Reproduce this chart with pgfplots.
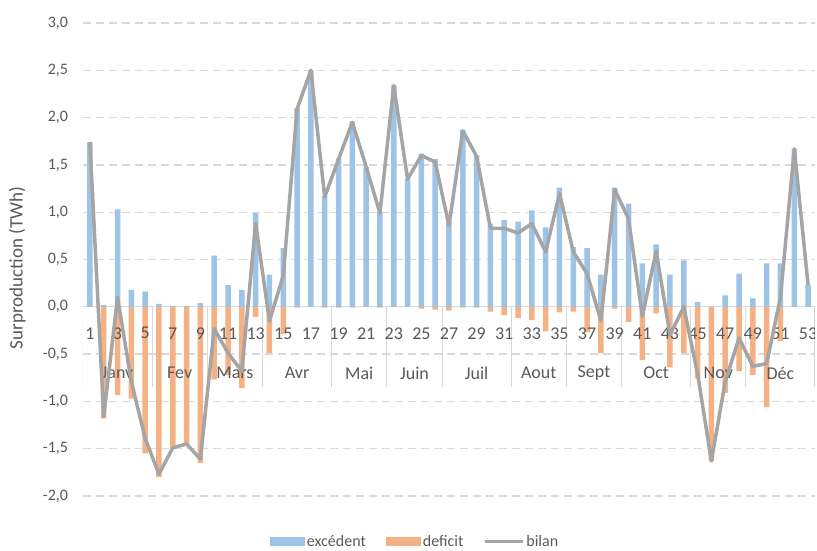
\documentclass[border=0pt]{standalone}
\usepackage{fontspec}
\setmainfont{Carlito}
\usepackage{pgfplots}
\pgfplotsset{compat=1.18}
\usepackage{pgfplotstable}
\definecolor{exc}{RGB}{157,195,230}
\definecolor{def}{RGB}{244,177,131}
\definecolor{bil}{RGB}{165,165,165}
\definecolor{gridc}{RGB}{217,217,217}
\definecolor{txt}{RGB}{89,89,89}

\pgfplotstableread{
w exc def bil
1 1.74 0.00 1.74
2 0.02 -1.18 -1.16
3 1.03 -0.93 0.10
4 0.18 -0.97 -0.79
5 0.16 -1.55 -1.39
6 0.03 -1.80 -1.77
7 0.01 -1.50 -1.49
8 0.01 -1.46 -1.45
9 0.04 -1.65 -1.61
10 0.54 -0.77 -0.23
11 0.23 -0.72 -0.49
12 0.18 -0.86 -0.68
13 0.99 -0.11 0.88
14 0.34 -0.49 -0.15
15 0.62 -0.29 0.33
16 2.10 -0.01 2.09
17 2.50 0.00 2.50
18 1.17 -0.01 1.16
19 1.57 -0.01 1.56
20 1.96 -0.01 1.95
21 1.48 0.00 1.48
22 1.00 -0.01 0.99
23 2.34 0.00 2.34
24 1.35 0.00 1.35
25 1.62 -0.02 1.60
26 1.56 -0.03 1.53
27 0.90 -0.04 0.86
28 1.87 -0.01 1.86
29 1.60 -0.01 1.59
30 0.88 -0.05 0.83
31 0.92 -0.09 0.83
32 0.90 -0.12 0.78
33 1.02 -0.14 0.88
34 0.84 -0.26 0.58
35 1.26 -0.06 1.20
36 0.63 -0.05 0.58
37 0.62 -0.27 0.35
38 0.34 -0.49 -0.15
39 1.26 -0.02 1.24
40 1.09 -0.16 0.93
41 0.46 -0.56 -0.10
42 0.66 -0.07 0.59
43 0.34 -0.64 -0.30
44 0.49 -0.49 0.00
45 0.05 -0.76 -0.71
46 0.00 -1.63 -1.63
47 0.12 -0.91 -0.79
48 0.35 -0.68 -0.33
49 0.09 -0.72 -0.63
50 0.46 -1.06 -0.60
51 0.46 -0.36 0.10
52 1.67 0.00 1.67
53 0.23 0.00 0.23
}\data

\begin{document}
\begin{tikzpicture}
\begin{axis}[
  scale only axis, width=732pt, height=473pt,
  xmin=0.5, xmax=53.5, ymin=-2, ymax=3,
  axis x line*=middle, axis y line*=left,
  x axis line style={draw=gridc, line width=1pt},
  y axis line style={draw=none},
  xtick=\empty,
  ytick={-2,-1.5,-1,-0.5,0,0.5,1,1.5,2,2.5,3},
  major tick length=0pt,
  ymajorgrids,
  major grid style={gridc, line width=1.3pt, dash pattern=on 8pt off 5pt},
  /pgf/number format/assume math mode=true,
  yticklabel style={font=\fontsize{16}{16}\selectfont, text=txt, xshift=-11.5pt,
    /pgf/number format/.cd, use comma, fixed, fixed zerofill, precision=1},
  ylabel={Surproduction (TWh)},
  ylabel style={at={(axis description cs:-0.090,0.482)}, anchor=center,
    font=\fontsize{19}{19}\selectfont, text=txt},
  legend style={at={(axis description cs:0.4536,-0.097)}, anchor=center,
    legend columns=3, draw=none, fill=none, inner sep=0pt,
    font=\fontsize{16}{16}\selectfont, text=txt,
    /tikz/every even column/.append style={column sep=18pt}},
  legend cell align=left,
]
\addplot[ybar, bar width=5.5pt, bar shift=0pt, fill=exc, draw=none,
  legend image code/.code={\fill[exc] (0pt,-4.5pt) rectangle (35pt,4.5pt);}]
  table[x=w, y=exc] {\data};
\addlegendentry{excédent}
\addplot[ybar, bar width=5.5pt, bar shift=0pt, fill=def, draw=none,
  legend image code/.code={\fill[def] (0pt,-4.5pt) rectangle (35pt,4.5pt);}]
  table[x=w, y=def] {\data};
\addlegendentry{deficit}
\pgfplotsinvokeforeach{0.5,5.5,9.5,13.5,18.5,22.5,26.5,31.5,35.5,39.5,44.5,48.5,53.5}{
  \draw[gridc, line width=1pt] (axis cs:#1,0) -- (axis cs:#1,-0.85);
}
\pgfplotsinvokeforeach{1,3,5,7,9,11,13,15,17,19,21,23,25,27,29,31,33,35,37,39,41,43,45,47,49,51,53}{
  \node[font=\fontsize{18}{18}\selectfont, text=txt] at (axis cs:#1,-0.28) {#1};
}
\node[font=\fontsize{18}{18}\selectfont, text=txt] at (axis cs:3,-0.70) {Janv};
\node[font=\fontsize{18}{18}\selectfont, text=txt] at (axis cs:7.5,-0.70) {Fev};
\node[font=\fontsize{18}{18}\selectfont, text=txt] at (axis cs:11.5,-0.70) {Mars};
\node[font=\fontsize{18}{18}\selectfont, text=txt] at (axis cs:16,-0.70) {Avr};
\node[font=\fontsize{18}{18}\selectfont, text=txt] at (axis cs:20.5,-0.70) {Mai};
\node[font=\fontsize{18}{18}\selectfont, text=txt] at (axis cs:24.5,-0.70) {Juin};
\node[font=\fontsize{18}{18}\selectfont, text=txt] at (axis cs:29,-0.70) {Juil};
\node[font=\fontsize{18}{18}\selectfont, text=txt] at (axis cs:33.5,-0.70) {Aout};
\node[font=\fontsize{18}{18}\selectfont, text=txt] at (axis cs:37.5,-0.70) {Sept};
\node[font=\fontsize{18}{18}\selectfont, text=txt] at (axis cs:42,-0.70) {Oct};
\node[font=\fontsize{18}{18}\selectfont, text=txt] at (axis cs:46.5,-0.70) {Nov};
\node[font=\fontsize{18}{18}\selectfont, text=txt] at (axis cs:51,-0.70) {Déc};
\addplot[bil, line width=3.5pt, line join=round, mark=none,
  legend image code/.code={\draw[bil, line width=3pt] (0pt,0pt) -- (38pt,0pt);}]
  table[x=w, y=bil] {\data};
\addlegendentry{bilan}
\end{axis}
\path (current axis.south west) ++(-83pt,-53pt) rectangle ++(817pt,549pt);
\end{tikzpicture}
\end{document}
